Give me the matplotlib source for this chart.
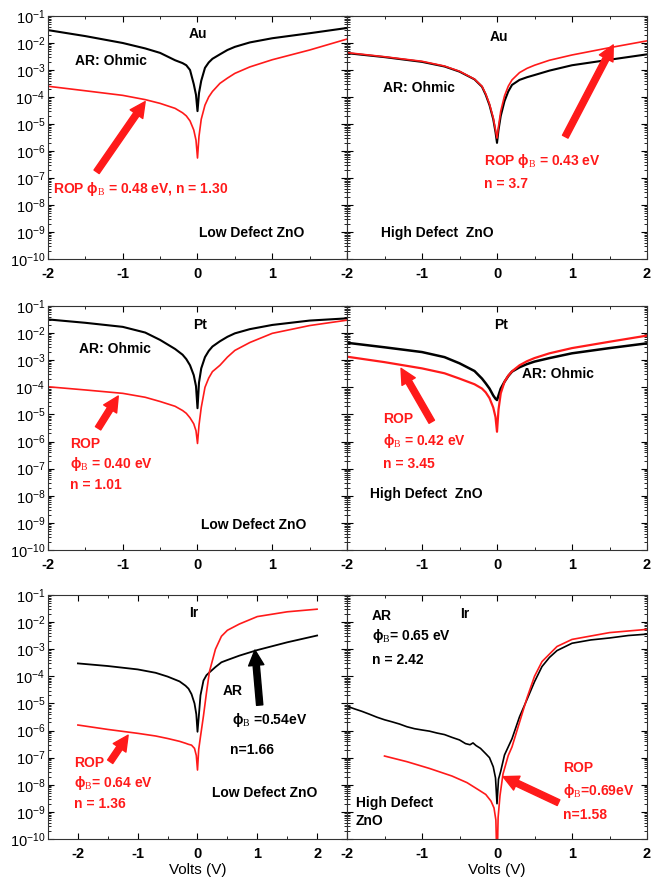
import matplotlib
matplotlib.use("Agg")
import matplotlib.pyplot as plt
from matplotlib.ticker import LogLocator, MultipleLocator, NullFormatter, FixedLocator

plt.rcParams['font.family'] = ['Liberation Sans', 'DejaVu Sans']
plt.rcParams['mathtext.fontset'] = 'custom'
plt.rcParams['mathtext.rm'] = 'Liberation Serif'
plt.rcParams['mathtext.it'] = 'Liberation Serif:italic'
plt.rcParams['mathtext.bf'] = 'Liberation Serif:bold'

# voltage sweep used for the smooth I-V curves (V)
volts = [-2, -1.5, -1, -0.7, -0.5, -0.3, -0.2, -0.15, -0.1, -0.05, -0.02, 0,
         0.02, 0.05, 0.1, 0.15, 0.2, 0.3, 0.4, 0.5, 0.7, 1, 1.5, 2]

# current (A)
au_low_ar = [3.0e-2, 1.8e-2, 1.0e-2, 6.3e-3, 4.3e-3, 2.3e-3, 1.8e-3, 1.5e-3, 1.0e-3, 3.0e-4, 1.2e-4, 3.0e-5,
             1.4e-4, 4.0e-4, 1.2e-3, 1.9e-3, 2.6e-3, 3.8e-3, 5.5e-3, 7.2e-3, 1.05e-2, 1.5e-2, 2.3e-2, 3.6e-2]
au_low_rop = [2.5e-4, 1.7e-4, 1.15e-4, 8.0e-5, 5.8e-5, 3.8e-5, 2.6e-5, 2.0e-5, 1.3e-5, 6.0e-6, 2.5e-6, 5.5e-7,
              3.5e-6, 1.5e-5, 5.0e-5, 1.0e-4, 1.6e-4, 3.2e-4, 5.0e-4, 7.5e-4, 1.3e-3, 2.4e-3, 5.5e-3, 1.4e-2]

au_high_ar = [4.2e-3, 3.0e-3, 2.0e-3, 1.35e-3, 8.7e-4, 4.5e-4, 2.4e-4, 1.2e-4, 5.0e-5, 1.5e-5, 5.0e-6, 2.0e-6,
              6.0e-6, 2.0e-5, 7.0e-5, 1.6e-4, 2.8e-4, 4.3e-4, 5.4e-4, 6.5e-4, 9.5e-4, 1.5e-3, 2.4e-3, 3.8e-3]
au_high_rop = [4.4e-3, 3.1e-3, 2.1e-3, 1.4e-3, 9.0e-4, 4.6e-4, 2.5e-4, 1.3e-4, 5.5e-5, 1.7e-5, 6.0e-6, 3.0e-6,
               8.0e-6, 3.0e-5, 1.1e-4, 2.5e-4, 4.3e-4, 8.0e-4, 1.15e-3, 1.5e-3, 2.3e-3, 3.6e-3, 6.7e-3, 1.2e-2]

pt_low_ar = [3.2e-2, 2.4e-2, 1.7e-2, 1.05e-2, 5.6e-3, 2.6e-3, 1.6e-3, 1.1e-3, 6.5e-4, 2.8e-4, 1.1e-4, 1.7e-5,
             1.5e-4, 5.0e-4, 1.3e-3, 2.2e-3, 3.2e-3, 5.0e-3, 7.3e-3, 9.8e-3, 1.4e-2, 2.0e-2, 2.9e-2, 3.5e-2]
pt_low_rop = [1.05e-4, 8.0e-5, 6.0e-5, 4.3e-5, 3.0e-5, 2.0e-5, 1.4e-5, 1.1e-5, 7.5e-6, 4.5e-6, 2.5e-6, 8.5e-7,
              4.0e-6, 1.8e-5, 1.0e-4, 2.2e-4, 3.8e-4, 6.5e-4, 1.3e-3, 2.3e-3, 4.5e-3, 9.8e-3, 1.9e-2, 3.0e-2]

pt_high_ar = [4.4e-3, 3.0e-3, 2.0e-3, 1.3e-3, 7.7e-4, 4.0e-4, 2.1e-4, 1.4e-4, 9.0e-5, 5.0e-5, 3.8e-5, 3.4e-5,
              5.0e-5, 9.0e-5, 1.6e-4, 2.6e-4, 3.8e-4, 5.5e-4, 7.2e-4, 8.9e-4, 1.2e-3, 1.8e-3, 2.8e-3, 4.2e-3]
pt_high_rop = [1.35e-3, 8.5e-4, 5.0e-4, 3.3e-4, 2.1e-4, 1.3e-4, 9.0e-5, 6.5e-5, 4.0e-5, 1.8e-5, 8.0e-6, 2.3e-6,
               1.5e-5, 6.0e-5, 1.6e-4, 2.7e-4, 3.9e-4, 6.5e-4, 9.2e-4, 1.2e-3, 1.8e-3, 2.8e-3, 4.8e-3, 8.1e-3]

ir_low_ar = [3.0e-4, 2.4e-4, 1.8e-4, 1.35e-4, 9.8e-5, 6.5e-5, 4.5e-5, 3.5e-5, 2.2e-5, 1.0e-5, 4.0e-6, 9.0e-7,
             3.0e-6, 2.0e-5, 7.0e-5, 1.1e-4, 1.4e-4, 2.2e-4, 3.3e-4, 4.0e-4, 5.8e-4, 9.3e-4, 1.8e-3, 3.2e-3]
ir_low_rop = [1.6e-6, 1.1e-6, 7.9e-7, 6.3e-7, 5.1e-7, 4.0e-7, 3.4e-7, 3.1e-7, 2.9e-7, 2.2e-7, 1.2e-7, 3.5e-8,
              2.0e-7, 6.0e-7, 3.5e-6, 2.5e-5, 1.5e-4, 1.0e-3, 3.0e-3, 5.0e-3, 8.5e-3, 1.6e-2, 2.4e-2, 3.0e-2]

# high defect Ir: the AR sweep is noisy, so it has its own voltage points
ir_high_ar_v = [-2.0, -1.9, -1.8, -1.7, -1.6, -1.5, -1.4, -1.3, -1.2, -1.1, -1.0, -0.9, -0.8, -0.7, -0.6,
                -0.5, -0.42, -0.36, -0.32, -0.28, -0.22, -0.15, -0.1, -0.05, -0.02, 0, 0.02, 0.05, 0.1,
                0.2, 0.3, 0.4, 0.5, 0.6, 0.7, 0.8, 1.0, 1.25, 1.5, 1.75, 2.0]
ir_high_ar = [7.9e-6, 6.3e-6, 5.1e-6, 4.0e-6, 3.1e-6, 2.5e-6, 2.1e-6, 1.74e-6, 1.38e-6, 1.17e-6, 1.05e-6,
              9.5e-7, 8.1e-7, 7.1e-7, 5.6e-7, 4.5e-7, 3.3e-7, 3.0e-7, 3.5e-7, 2.8e-7, 2.2e-7, 1.4e-7, 1.0e-7,
              4.6e-8, 1.8e-8, 2.0e-9, 1.6e-8, 3.2e-8, 1.26e-7, 5.0e-7, 3.2e-6, 1.4e-5, 6.3e-5, 2.3e-4, 5.0e-4,
              8.9e-4, 1.66e-3, 2.2e-3, 2.6e-3, 3.2e-3, 3.6e-3]
ir_high_rop_v = [-1.5, -1.2, -0.9, -0.6, -0.4, -0.25, -0.15, -0.08, -0.04, -0.015, 0, 0.015, 0.04, 0.08,
                 0.15, 0.2, 0.3, 0.4, 0.5, 0.6, 0.8, 1.0, 1.5, 2.0]
ir_high_rop = [1.15e-7, 7.1e-8, 4.0e-8, 2.1e-8, 1.2e-8, 6.6e-9, 4.4e-9, 2.5e-9, 1.4e-9, 5.0e-10, 1.0e-11,
               6.3e-10, 4.0e-9, 2.5e-8, 1.2e-7, 2.5e-7, 2.0e-6, 1.6e-5, 1.0e-4, 3.5e-4, 1.26e-3, 2.3e-3,
               4.1e-3, 5.4e-3]

W, H = 657, 880
fig = plt.figure(figsize=(W / 100, H / 100), dpi=100)

RED = '#ff1a1a'
BOLD = dict(fontsize=10, fontweight='bold')


def make_axes(left_px, top_px, right_px, bottom_px):
    return fig.add_axes([left_px / W, 1 - bottom_px / H, (right_px - left_px) / W, (bottom_px - top_px) / H])


def style(ax, left_col, xlim=(-2, 2), hide_last=False):
    ax.set_yscale('log')
    ax.set_ylim(1e-10, 1e-1)
    ax.set_xlim(*xlim)
    ax.yaxis.set_major_locator(LogLocator(base=10, numticks=20))
    ax.yaxis.set_minor_locator(LogLocator(base=10, subs=range(2, 10), numticks=20))
    ax.yaxis.set_minor_formatter(NullFormatter())
    ax.xaxis.set_major_locator(FixedLocator([-2, -1, 0, 1, 2]))
    ax.xaxis.set_minor_locator(MultipleLocator(0.5))
    ax.tick_params(which='both', direction='in', top=True, right=True)
    ax.tick_params(which='major', length=4, width=0.8)
    ax.tick_params(which='minor', length=2, width=0.6)
    ax.tick_params(axis='y', labelsize=10.5, pad=2)
    ax.tick_params(axis='x', labelsize=10.5, pad=6)
    last = '' if hide_last else '2'
    ax.set_xticklabels(['-2', '-1', '0', '1', last], fontweight='bold')
    if not left_col:
        ax.tick_params(axis='y', labelleft=False)
    for sp in ax.spines.values():
        sp.set_linewidth(0.8)
        sp.set_color('#333333')


def label(ax, x, logy, txt, color='black', ha='left'):
    ax.text(x, 10 ** (logy - 0.19), txt, color=color, ha=ha, va='baseline', **BOLD)


def arrow(ax, tail, head, color=RED):
    ax.annotate('', xy=(head[0], 10 ** head[1]), xytext=(tail[0], 10 ** tail[1]),
                arrowprops=dict(arrowstyle='simple,head_length=1.1,head_width=1.1,tail_width=0.45',
                                color=color, mutation_scale=10, shrinkA=0, shrinkB=0))


PHI = 'ϕ$_{\\mathrm{B}}$'

# ---- Au ----
ax = make_axes(48, 16, 347, 259)
style(ax, True, hide_last=True)
ax.plot(volts, au_low_ar, color='black', lw=1.5)
ax.plot(volts, au_low_rop, color=RED, lw=1.2)
label(ax, 0, -1.64, 'Au', ha='center')
label(ax, -1.64, -2.63, 'AR: Ohmic')
label(ax, -1.93, -7.37, 'ROP ' + PHI + ' = 0.48 eV, n = 1.30', color=RED)
label(ax, 0.02, -8.99, 'Low Defect ZnO')
arrow(ax, (-1.35, -6.77), (-0.70, -4.17))

ax = make_axes(347, 16, 647, 259)
style(ax, False)
ax.plot(volts, au_high_ar, color='black', lw=1.5)
ax.plot(volts, au_high_rop, color=RED, lw=1.2)
label(ax, 0.02, -1.74, 'Au', ha='center')
label(ax, -1.52, -3.64, 'AR: Ohmic')
label(ax, -0.18, -6.31, 'ROP ' + PHI + ' = 0.43 eV', color=RED)
label(ax, -0.18, -7.17, 'n = 3.7', color=RED)
label(ax, -1.55, -8.99, 'High Defect  ZnO')
arrow(ax, (0.91, -5.47), (1.55, -2.07))

# ---- Pt ----
ax = make_axes(48, 306, 347, 550)
style(ax, True, hide_last=True)
ax.plot(volts, pt_low_ar, color='black', lw=1.5)
ax.plot(volts, pt_low_rop, color=RED, lw=1.2)
label(ax, 0.03, -1.64, 'Pt', ha='center')
label(ax, -1.59, -2.56, 'AR: Ohmic')
label(ax, -1.70, -6.04, 'ROP', color=RED)
label(ax, -1.70, -6.80, PHI + ' = 0.40 eV', color=RED)
label(ax, -1.70, -7.57, 'n = 1.01', color=RED)
label(ax, 0.05, -9.02, 'Low Defect ZnO')
arrow(ax, (-1.33, -5.51), (-1.06, -4.32))

ax = make_axes(347, 306, 647, 550)
style(ax, False)
ax.plot(volts, pt_high_ar, color='black', lw=1.8)
ax.plot(volts, pt_high_rop, color=RED, lw=1.6)
label(ax, 0.06, -1.66, 'Pt', ha='center')
label(ax, 0.33, -3.48, 'AR: Ohmic')
label(ax, -1.52, -5.14, 'ROP', color=RED)
label(ax, -1.52, -5.92, PHI + ' = 0.42 eV', color=RED)
label(ax, -1.52, -6.78, 'n = 3.45', color=RED)
label(ax, -1.69, -7.89, 'High Defect  ZnO')
arrow(ax, (-0.87, -5.27), (-1.28, -3.30))

# ---- Ir ----
ax = make_axes(48, 595, 347, 839)
style(ax, True, xlim=(-2.5, 2.5))
ax.plot(volts, ir_low_ar, color='black', lw=1.3)
ax.plot(volts, ir_low_rop, color=RED, lw=1.2)
label(ax, -0.07, -1.62, 'Ir', ha='center')
label(ax, 0.42, -4.51, 'AR')
label(ax, 0.58, -5.55, PHI + ' =0.54eV')
label(ax, 0.54, -6.69, 'n=1.66')
label(ax, -2.07, -7.15, 'ROP', color=RED)
label(ax, -2.07, -7.89, PHI + '= 0.64 eV', color=RED)
label(ax, -2.07, -8.66, 'n = 1.36', color=RED)
label(ax, 0.24, -8.26, 'Low Defect ZnO')
arrow(ax, (-1.46, -7.15), (-1.16, -6.17))
arrow(ax, (1.04, -5.06), (0.96, -3.03), color='black')
ax.set_xlabel('Volts (V)', fontsize=11, labelpad=1)

ax = make_axes(347, 595, 647, 839)
style(ax, False)
ax.plot(ir_high_ar_v, ir_high_ar, color='black', lw=1.2)
ax.plot(ir_high_rop_v, ir_high_rop, color=RED, lw=1.2)
label(ax, -1.67, -1.74, 'AR')
label(ax, -1.67, -2.48, PHI + '= 0.65 eV')
label(ax, -1.67, -3.34, 'n = 2.42')
label(ax, -0.49, -1.65, 'Ir')
label(ax, 0.88, -7.34, 'ROP', color=RED)
label(ax, 0.88, -8.20, PHI + '=0.69eV', color=RED)
label(ax, 0.88, -9.06, 'n=1.58', color=RED)
label(ax, -1.88, -8.63, 'High Defect')
label(ax, -1.88, -9.28, 'ZnO')
arrow(ax, (0.82, -8.66), (0.08, -7.70))
ax.set_xlabel('Volts (V)', fontsize=11, labelpad=1)

fig.savefig('out.png', dpi=100, facecolor='white')
